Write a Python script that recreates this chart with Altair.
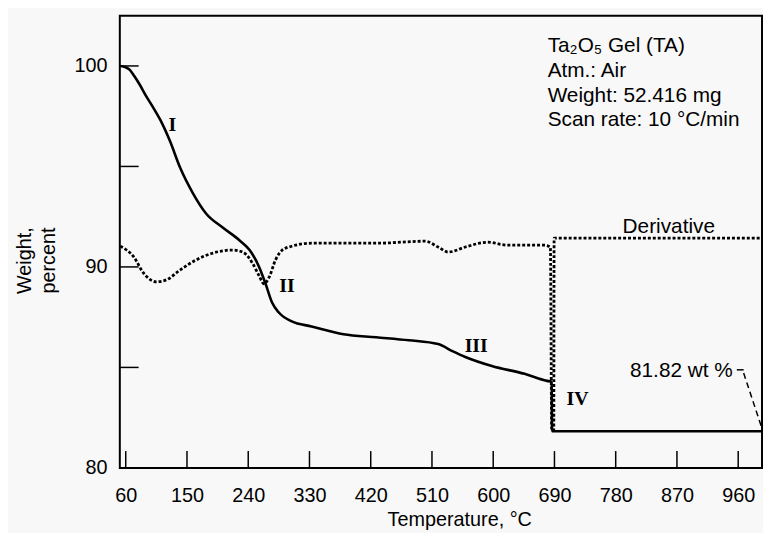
import altair as alt
import pandas as pd

# ---- data ----
wt_temp = [52, 60, 66, 72, 80, 90, 100, 111, 125, 140, 159, 178, 202, 227, 242, 256, 265, 275, 285,
           304, 333, 380, 428, 476, 519, 540, 559, 598, 646, 679, 686, 686.5, 995]
wt_val = [100.0, 99.93, 99.8, 99.52, 99.1, 98.5, 97.95, 97.3, 96.26, 94.93, 93.65, 92.66,
          91.97, 91.33, 90.84, 90.0, 89.21, 88.23, 87.73, 87.29, 87.04, 86.65, 86.50, 86.35,
          86.16, 85.81, 85.52, 85.07, 84.68, 84.33, 84.29, 81.82, 81.82]

der_temp = [52, 72, 86, 105, 120, 140, 163, 188, 217, 232, 246, 256, 263, 271, 280, 290,
            304, 333, 428, 500, 519, 534, 559, 592, 621, 675, 684, 686, 689, 689.5, 995]
der_val = [91.03, 90.49, 89.70, 89.26, 89.36, 89.85, 90.34, 90.69, 90.84, 90.74, 90.20,
           89.56, 89.16, 89.51, 90.34, 90.84, 91.03, 91.18, 91.18, 91.28, 90.99, 90.74,
           90.99, 91.23, 91.08, 91.08, 90.99, 81.87, 81.87, 91.43, 91.43]

x_ticks = [60, 150, 240, 330, 420, 510, 600, 690, 780, 870, 960]
y_ticks = [85, 90, 95, 100]
y_labels = [80, 90, 100]

info_lines = ["Ta₂O₅ Gel (TA)", "Atm.: Air", "Weight: 52.416 mg", "Scan rate: 10 °C/min"]
info_x = [680, 680, 680, 680]
info_y = [100.69, 99.46, 98.23, 96.99]

stage_text = ["I", "II", "III", "IV"]
stage_x = [128.4, 297.0, 575, 724]
stage_y = [97.04, 89.06, 86.06, 83.45]

deriv_label = ["Derivative"]
deriv_x = [858]
deriv_y = [91.67]

final_label = ["81.82 wt %"]
final_x = [952]
final_y = [84.53]

leader_h_x = [958, 968]
leader_h_y = [84.88, 84.88]
leader_d_x = [968, 994.9]
leader_d_y = [84.72, 81.97]

X_DOM = [51.3, 995]
Y_DOM = [80, 102.5]
W, H = 649, 457
FONT = "Liberation Sans"

xs = alt.Scale(domain=X_DOM, nice=False, zero=False)
ys = alt.Scale(domain=Y_DOM, nice=False, zero=False)

wt_df = pd.DataFrame({"t": wt_temp, "w": wt_val, "o": range(len(wt_temp))})
der_df = pd.DataFrame({"t": der_temp, "w": der_val, "o": range(len(der_temp))})

weight = alt.Chart(wt_df).mark_line(color="black", strokeWidth=2.6, interpolate="monotone").encode(
    x=alt.X("t:Q", scale=xs,
            axis=alt.Axis(values=x_ticks, title="Temperature, °C", domain=False, ticks=False,
                          grid=False, labelFont=FONT, labelFontSize=20, labelColor="black",
                          labelPadding=18, titleFont=FONT, titleFontSize=20,
                          titleFontWeight="normal", titleColor="black",
                          titleX=343, titleY=58, titleBaseline="alphabetic")),
    y=alt.Y("w:Q", scale=ys,
            axis=alt.Axis(values=y_labels, title=["Weight,", "percent"], domain=False,
                          ticks=False, grid=False, labelFont=FONT, labelFontSize=20,
                          labelColor="black", labelPadding=13, titleFont=FONT,
                          titleFontSize=20, titleFontWeight="normal", titleColor="black",
                          titleAngle=270, titleX=-86, titleY=247, titleBaseline="bottom",
                          titleAlign="center", titleLineHeight=24)),
    order="o:Q",
)

deriv = alt.Chart(der_df).mark_line(color="black", strokeWidth=2.8, strokeDash=[3, 2],
                                     interpolate="monotone").encode(
    x=alt.X("t:Q", scale=xs), y=alt.Y("w:Q", scale=ys), order="o:Q")

xt = alt.Chart(pd.DataFrame({"t": x_ticks})).mark_rule(color="black", strokeWidth=1.5).encode(
    x=alt.X("t:Q", scale=xs), y=alt.value(H), y2=alt.value(H - 17))
yt = alt.Chart(pd.DataFrame({"v": y_ticks})).mark_rule(color="black", strokeWidth=1.5).encode(
    y=alt.Y("v:Q", scale=ys), x=alt.value(0), x2=alt.value(19))

info = alt.Chart(pd.DataFrame({"s": info_lines, "x": info_x, "y": info_y})).mark_text(
    font=FONT, fontSize=21, align="left", baseline="alphabetic", color="black").encode(
    x=alt.X("x:Q", scale=xs), y=alt.Y("y:Q", scale=ys), text="s:N")

stages = alt.Chart(pd.DataFrame({"s": stage_text, "x": stage_x, "y": stage_y})).mark_text(
    font="Liberation Serif", fontSize=20, fontWeight="bold", align="center",
    baseline="middle", color="#000000").encode(
    x=alt.X("x:Q", scale=xs), y=alt.Y("y:Q", scale=ys), text="s:N")

dlab = alt.Chart(pd.DataFrame({"s": deriv_label, "x": deriv_x, "y": deriv_y})).mark_text(
    font=FONT, fontSize=21, align="center", baseline="alphabetic", color="black").encode(
    x=alt.X("x:Q", scale=xs), y=alt.Y("y:Q", scale=ys), text="s:N")

flab = alt.Chart(pd.DataFrame({"s": final_label, "x": final_x, "y": final_y})).mark_text(
    font=FONT, fontSize=21, align="right", baseline="alphabetic", color="black").encode(
    x=alt.X("x:Q", scale=xs), y=alt.Y("y:Q", scale=ys), text="s:N")

lh = alt.Chart(pd.DataFrame({"x": leader_h_x, "y": leader_h_y})).mark_line(
    color="black", strokeWidth=1.5).encode(x=alt.X("x:Q", scale=xs), y=alt.Y("y:Q", scale=ys))
ld = alt.Chart(pd.DataFrame({"x": leader_d_x, "y": leader_d_y})).mark_line(
    color="black", strokeWidth=1.5, strokeDash=[6, 4]).encode(
    x=alt.X("x:Q", scale=xs), y=alt.Y("y:Q", scale=ys))

chart = alt.layer(deriv, weight, xt, yt, info, stages, dlab, flab, lh, ld).properties(
    width=W, height=H,
    autosize=alt.AutoSizeParams(type="none"),
    padding={"left": 113, "top": 5, "right": 1, "bottom": 63},
    background="#f8f8f8",
).configure_view(stroke="black", strokeWidth=2)

chart.save("out.html", embed_options={"renderer": "svg", "actions": False})
